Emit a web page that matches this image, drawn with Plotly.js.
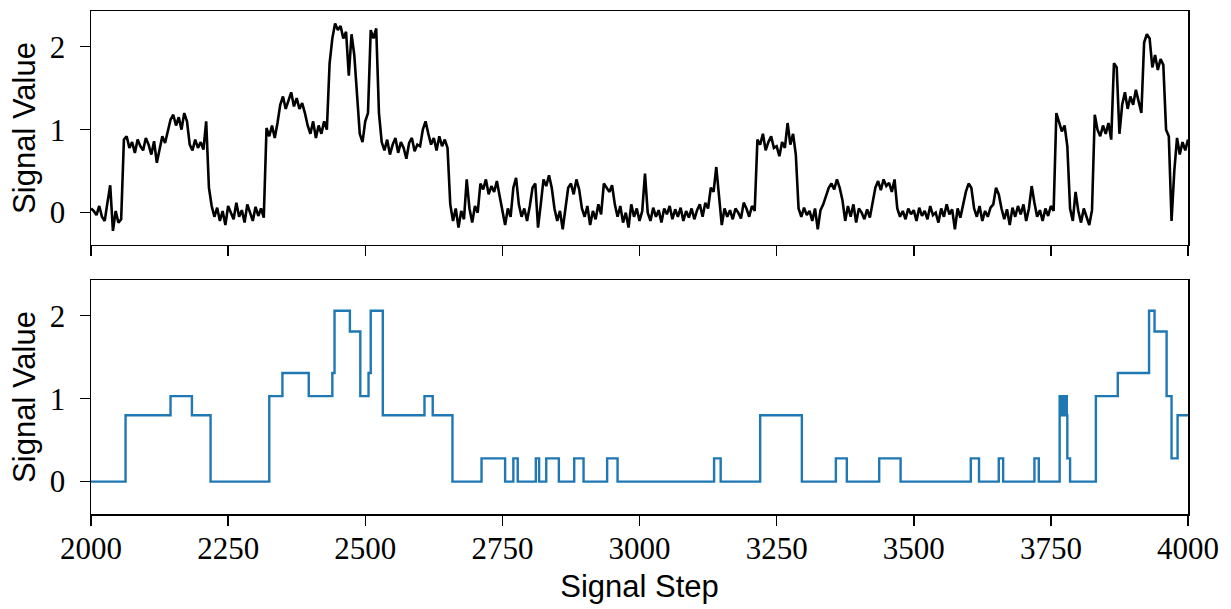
<!DOCTYPE html>
<html>
<head>
<meta charset="utf-8">
<script src="https://cdn.plot.ly/plotly-3.0.1.min.js"></script>
<style>
  html, body { margin: 0; padding: 0; background: #fff; }
  #chart { width: 1231px; height: 609px; }
</style>
</head>
<body>
<div id="chart"></div>
<script>
// Raw measured signal, one sample every 5 steps starting at step 2000
const signalStart = 2000;
const signalStride = 5;
const signalValues = [
  // 2000-2095
  0.05, 0.02, -0.03, 0.08, -0.05, -0.10, 0.12, 0.33, -0.22, 0.02, -0.12, -0.08, 0.88, 0.92, 0.78, 0.85, 0.72, 0.88, 0.80, 0.75,
  // 2100-2195
  0.90, 0.82, 0.70, 0.86, 0.60, 0.78, 0.92, 0.84, 1.00, 1.12, 1.18, 1.05, 1.15, 1.00, 1.20, 1.10, 0.82, 0.75, 0.88, 0.78,
  // 2200-2295
  0.85, 0.76, 1.10, 0.30, 0.08, -0.05, 0.06, -0.10, 0.02, -0.15, 0.08, 0.00, -0.08, 0.12, -0.05, 0.03, -0.12, 0.10, 0.00, -0.10,
  // 2300-2395
  0.07, -0.04, 0.05, -0.06, 1.02, 0.92, 1.05, 0.90, 1.08, 1.30, 1.40, 1.25, 1.35, 1.45, 1.28, 1.38, 1.25, 1.32, 1.20, 1.05,
  // 2400-2495
  0.95, 1.10, 0.90, 1.05, 0.95, 1.10, 1.00, 1.80, 2.10, 2.28, 2.20, 2.25, 2.10, 2.18, 1.65, 2.15, 1.90, 1.35, 0.95, 0.85,
  // 2500-2595
  1.10, 1.20, 2.20, 2.10, 2.22, 1.20, 0.85, 0.75, 0.88, 0.70, 0.82, 0.90, 0.72, 0.85, 0.78, 0.65, 0.84, 0.90, 0.74, 0.82,
  // 2600-2695
  0.80, 1.00, 1.10, 0.95, 0.82, 0.90, 0.75, 0.92, 0.80, 0.88, 0.78, 0.10, -0.10, 0.05, -0.18, 0.02, -0.08, 0.40, 0.05, -0.12,
  // 2700-2795
  0.08, 0.00, 0.35, 0.28, 0.40, 0.22, 0.32, 0.25, 0.38, 0.20, 0.00, -0.15, 0.05, -0.05, 0.30, 0.42, 0.10, -0.05, 0.05, -0.10,
  // 2800-2895
  0.08, 0.30, 0.35, -0.18, 0.10, 0.40, 0.32, 0.45, 0.30, 0.05, -0.10, 0.02, -0.20, 0.05, 0.30, 0.35, 0.22, 0.40, 0.28, 0.05,
  // 2900-2995
  -0.05, 0.08, -0.15, 0.02, -0.08, 0.10, -0.02, 0.35, 0.30, 0.25, 0.33, 0.10, -0.05, 0.08, -0.12, 0.00, -0.18, 0.10, -0.05, 0.05,
  // 3000-3095
  -0.10, 0.02, 0.47, 0.00, -0.10, 0.06, -0.05, 0.03, -0.12, 0.05, -0.02, 0.08, -0.08, 0.04, -0.05, 0.06, -0.10, 0.02, -0.06, 0.05,
  // 3100-3195
  -0.08, 0.03, 0.10, -0.05, 0.12, 0.05, 0.30, 0.25, 0.55, 0.20, -0.15, 0.05, -0.05, 0.03, -0.08, 0.05, 0.00, -0.07, 0.12, 0.05,
  // 3200-3295
  -0.05, 0.08, 0.02, 0.88, 0.82, 0.95, 0.75, 0.85, 0.92, 0.78, 0.80, 0.68, 0.85, 0.78, 1.08, 0.82, 0.95, 0.70, 0.05, -0.05,
  // 3300-3395
  0.06, -0.03, 0.02, -0.10, 0.05, -0.20, 0.03, 0.10, 0.20, 0.30, 0.35, 0.28, 0.40, 0.30, 0.15, -0.10, 0.08, -0.05, 0.10, -0.12,
  // 3400-3495
  0.05, 0.00, -0.08, 0.04, -0.06, 0.10, 0.30, 0.38, 0.27, 0.40, 0.32, 0.36, 0.25, 0.40, 0.05, -0.05, 0.02, -0.08, 0.05, -0.02,
  // 3500-3595
  0.03, -0.10, 0.06, -0.04, 0.02, -0.08, 0.08, -0.03, 0.00, -0.12, 0.05, -0.05, 0.10, -0.02, 0.04, -0.20, 0.05, -0.06, 0.08, 0.25,
  // 3600-3695
  0.35, 0.30, 0.05, -0.05, 0.08, -0.10, 0.02, -0.05, 0.06, 0.10, 0.30, 0.22, 0.05, -0.08, 0.04, -0.15, 0.06, -0.05, 0.08, -0.02,
  // 3700-3795
  0.10, -0.10, 0.05, 0.32, 0.12, -0.05, 0.03, -0.10, 0.05, -0.04, 0.08, 0.02, 1.20, 1.10, 0.98, 1.05, 0.80, 0.05, -0.10, 0.25,
  // 3800-3895
  0.02, -0.12, 0.05, -0.05, -0.15, 0.03, 1.18, 1.00, 0.92, 1.05, 0.95, 1.08, 0.88, 1.80, 1.75, 0.95, 1.30, 1.45, 1.25, 1.40,
  // 3900-3995
  1.30, 1.48, 1.35, 1.20, 2.05, 2.15, 2.10, 1.75, 1.90, 1.72, 1.85, 1.78, 1.00, 0.92, -0.10, 0.50, 0.90, 0.70, 0.85, 0.75,
  // 4000
  0.88
];

// Piecewise-constant fitted levels: each value holds from its step until the next one
const stateSteps = [
  2000, 2063, 2145, 2184, 2218, 2325, 2349, 2397, 2440, 2444,
  2472, 2491, 2506, 2510, 2532, 2608, 2623, 2659, 2712, 2755,
  2770, 2778, 2811, 2817, 2830, 2853, 2881, 2898, 2941, 2960,
  3136, 3148, 3220, 3296, 3358, 3378, 3437, 3476, 3604, 3619,
  3655, 3663, 3720, 3728, 3766, 3768, 3770, 3772, 3774, 3776,
  3777, 3779, 3780, 3785, 3832, 3872, 3929, 3939, 3961, 3970,
  3981, 4000
];
const stateValues = [
  0, 0.80, 1.03, 0.80, 0, 1.03, 1.31, 1.03, 1.31, 2.06,
  1.81, 1.03, 1.31, 2.06, 0.80, 1.03, 0.80, 0, 0.28, 0,
  0.28, 0, 0.28, 0, 0.28, 0, 0.28, 0, 0.28, 0,
  0.28, 0, 0.80, 0, 0.28, 0, 0.28, 0, 0.28, 0,
  0.28, 0, 0.28, 0, 1.03, 0.80, 1.03, 0.80, 1.03, 0.80,
  1.03, 0.80, 0.28, 0, 1.03, 1.31, 2.06, 1.81, 1.03, 0.28,
  0.80, 0.80
];

const stepTicks = [2000, 2250, 2500, 2750, 3000, 3250, 3500, 3750, 4000];
const valueTicks = [0, 1, 2];
const valueRange = [-0.39, 2.43];
const stepRange = [2000, 4000];

const signalSteps = signalValues.map((_, i) => signalStart + i * signalStride);

const tickFont = { family: 'Liberation Serif, DejaVu Serif, serif', size: 31, color: '#000' };
const titleFont = { family: 'Liberation Sans, Arial, sans-serif', size: 31, color: '#000' };

const axisCommon = {
  showline: true, mirror: true, linecolor: '#000', linewidth: 1.5,
  ticks: 'outside', ticklen: 10, tickwidth: 1.5, tickcolor: '#000',
  showgrid: false, zeroline: false, tickfont: tickFont
};

const traces = [
  {
    x: signalSteps, y: signalValues, xaxis: 'x', yaxis: 'y',
    type: 'scatter', mode: 'lines',
    line: { color: '#000000', width: 2.6 },
    hoverinfo: 'skip', showlegend: false
  },
  {
    x: stateSteps, y: stateValues, xaxis: 'x2', yaxis: 'y2',
    type: 'scatter', mode: 'lines',
    line: { color: '#1f77b4', width: 2.4, shape: 'hv' },
    hoverinfo: 'skip', showlegend: false
  }
];

const layout = {
  width: 1231, height: 609,
  margin: { l: 91, r: 43, t: 11, b: 95 },
  paper_bgcolor: '#ffffff', plot_bgcolor: '#ffffff',
  showlegend: false,
  xaxis: Object.assign({}, axisCommon, {
    domain: [0, 1], anchor: 'y', range: stepRange,
    tickvals: stepTicks, showticklabels: false
  }),
  yaxis: Object.assign({}, axisCommon, {
    domain: [0.5348, 1], anchor: 'x', range: valueRange,
    tickvals: valueTicks, ticktext: valueTicks.map(String),
    ticklabelstandoff: 8,
    title: { text: 'Signal Value', font: titleFont, standoff: 5 }
  }),
  xaxis2: Object.assign({}, axisCommon, {
    domain: [0, 1], anchor: 'y2', range: stepRange,
    tickvals: stepTicks, ticktext: stepTicks.map(String),
    ticklabelstandoff: -4,
    title: { text: 'Signal Step', font: titleFont, standoff: 10 }
  }),
  yaxis2: Object.assign({}, axisCommon, {
    domain: [0, 0.4652], anchor: 'x2', range: valueRange,
    tickvals: valueTicks, ticktext: valueTicks.map(String),
    ticklabelstandoff: 8,
    title: { text: 'Signal Value', font: titleFont, standoff: 5 }
  })
};

Plotly.newPlot('chart', traces, layout, { staticPlot: true, displayModeBar: false });
</script>
</body>
</html>
